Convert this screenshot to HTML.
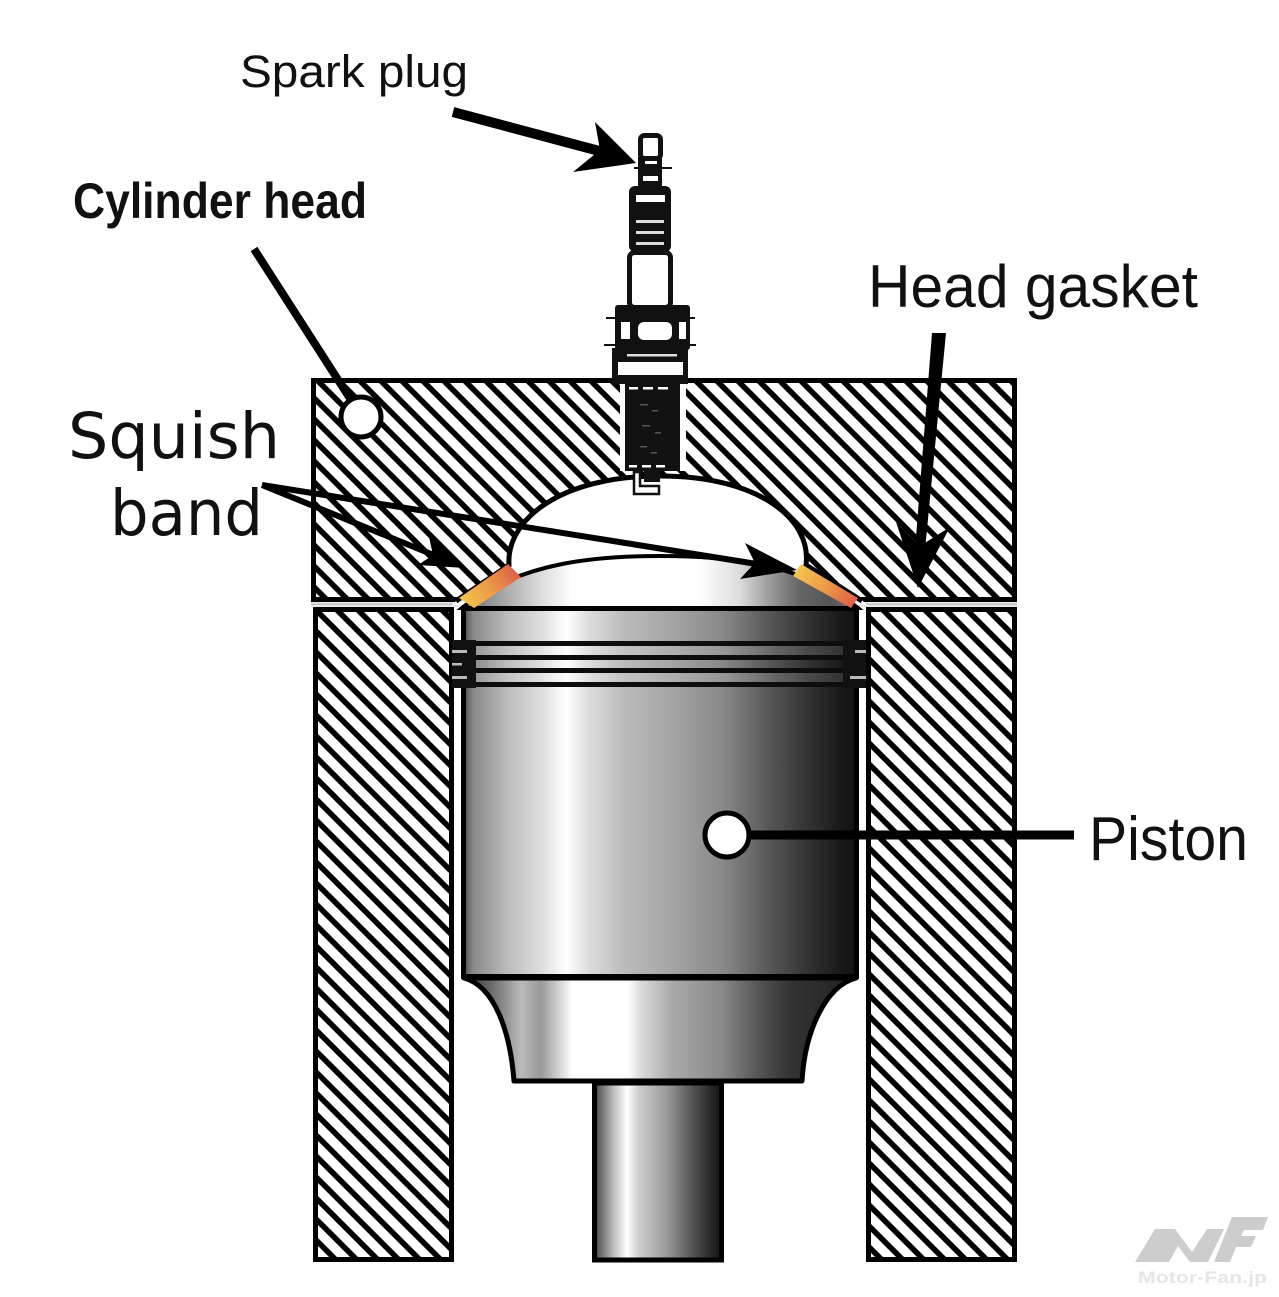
<!DOCTYPE html>
<html><head><meta charset="utf-8">
<style>html,body{margin:0;padding:0;background:#fff;}svg{display:block}</style>
</head><body>
<svg width="1279" height="1297" viewBox="0 0 1279 1297" xmlns="http://www.w3.org/2000/svg">
<defs>
  <pattern id="h" patternUnits="userSpaceOnUse" width="21" height="21">
    <path d="M-3,-3 L24,24 M-3,18 L3,24 M18,-3 L24,3" stroke="#000" stroke-width="5.6" fill="none"/>
  </pattern>
  <linearGradient id="pb" gradientUnits="userSpaceOnUse" x1="461" y1="0" x2="859" y2="0">
    <stop offset="0" stop-color="#3c3c3c"/><stop offset="0.03" stop-color="#888"/>
    <stop offset="0.115" stop-color="#bbb"/><stop offset="0.2" stop-color="#ddd"/>
    <stop offset="0.266" stop-color="#fff"/><stop offset="0.32" stop-color="#ddd"/>
    <stop offset="0.41" stop-color="#bbb"/><stop offset="0.53" stop-color="#a5a5a5"/>
    <stop offset="0.66" stop-color="#888"/><stop offset="0.78" stop-color="#555"/>
    <stop offset="0.87" stop-color="#333"/><stop offset="0.95" stop-color="#1a1a1a"/>
    <stop offset="1" stop-color="#111"/>
  </linearGradient>
  <linearGradient id="sk" gradientUnits="userSpaceOnUse" x1="462" y1="0" x2="857" y2="0">
    <stop offset="0" stop-color="#333"/><stop offset="0.07" stop-color="#666"/>
    <stop offset="0.15" stop-color="#bbb"/><stop offset="0.2" stop-color="#999"/>
    <stop offset="0.28" stop-color="#fff"/><stop offset="0.42" stop-color="#fff"/>
    <stop offset="0.45" stop-color="#ddd"/><stop offset="0.53" stop-color="#aaa"/>
    <stop offset="0.66" stop-color="#888"/><stop offset="0.75" stop-color="#555"/>
    <stop offset="0.83" stop-color="#333"/><stop offset="1" stop-color="#222"/>
  </linearGradient>
  <linearGradient id="rd" gradientUnits="userSpaceOnUse" x1="592" y1="0" x2="724" y2="0">
    <stop offset="0" stop-color="#333"/><stop offset="0.04" stop-color="#555"/>
    <stop offset="0.16" stop-color="#bbb"/><stop offset="0.265" stop-color="#fff"/>
    <stop offset="0.36" stop-color="#ccc"/><stop offset="0.57" stop-color="#999"/>
    <stop offset="0.76" stop-color="#555"/><stop offset="0.92" stop-color="#222"/>
    <stop offset="1" stop-color="#111"/>
  </linearGradient>
  <linearGradient id="pd" gradientUnits="userSpaceOnUse" x1="462" y1="0" x2="858" y2="0">
    <stop offset="0" stop-color="#666"/><stop offset="0.08" stop-color="#999"/>
    <stop offset="0.2" stop-color="#ddd"/><stop offset="0.28" stop-color="#fff"/>
    <stop offset="0.6" stop-color="#fff"/><stop offset="0.7" stop-color="#ddd"/>
    <stop offset="0.78" stop-color="#999"/><stop offset="0.85" stop-color="#666"/>
    <stop offset="0.93" stop-color="#555"/><stop offset="1" stop-color="#777"/>
  </linearGradient>
  <linearGradient id="ol" gradientUnits="userSpaceOnUse" x1="465" y1="605" x2="515" y2="568">
    <stop offset="0" stop-color="#f3c44c"/><stop offset="0.5" stop-color="#eb9a48"/><stop offset="1" stop-color="#de5e48"/>
  </linearGradient>
  <linearGradient id="or" gradientUnits="userSpaceOnUse" x1="800" y1="568" x2="855" y2="602">
    <stop offset="0" stop-color="#f3c44c"/><stop offset="0.5" stop-color="#eb9a48"/><stop offset="1" stop-color="#de5e48"/>
  </linearGradient>
</defs>

<rect width="1279" height="1297" fill="#fff"/>

<!-- Cylinder head -->
<rect x="313.5" y="380.5" width="701" height="219" fill="url(#h)" stroke="#000" stroke-width="5"/>
<!-- gasket gap -->
<rect x="311" y="602" width="706" height="5" fill="#e6e6e6"/>
<rect x="311" y="603.5" width="706" height="1.5" fill="#c4c4c4"/>

<!-- Cylinder walls -->
<rect x="315.5" y="609.5" width="136" height="650" fill="url(#h)" stroke="#000" stroke-width="5"/>
<rect x="868.5" y="609.5" width="146" height="650" fill="url(#h)" stroke="#000" stroke-width="5"/>

<!-- combustion chamber cut -->
<path d="M452,605 L459,598 L509,565 C506,520 560,476 660,476 C760,476 812,520 806,565 L860,598 L867,605 Z" fill="#fff"/>
<path d="M456,601 L509,565 C506,520 560,476 660,476 C760,476 812,520 806,565 L862,601" fill="none" stroke="#000" stroke-width="5"/>

<!-- spark plug threads in head -->
<rect x="620" y="381" width="66" height="90" fill="#fff"/>
<rect x="625" y="383" width="55" height="88" fill="#111"/>
<g fill="#fff">
  <rect x="629" y="387" width="9" height="2.5"/><rect x="643" y="387" width="10" height="2.5"/><rect x="658" y="387" width="10" height="2.5"/>
  <rect x="629" y="465" width="8" height="2.5"/><rect x="642" y="465" width="9" height="2.5"/><rect x="656" y="465" width="9" height="2.5"/>
</g>
<g fill="#555">
  <rect x="640" y="404" width="8" height="1.5"/><rect x="652" y="410" width="6" height="1.5"/>
  <rect x="642" y="425" width="8" height="1.5"/><rect x="655" y="432" width="6" height="1.5"/>
  <rect x="640" y="446" width="7" height="1.5"/><rect x="651" y="452" width="6" height="1.5"/>
</g>
<!-- electrode -->
<rect x="644" y="470" width="16" height="12" fill="#111"/>
<path d="M634,472 L634,494 L659,494 L659,486 L640,486 L640,472 Z" fill="#fff" stroke="#111" stroke-width="2.5"/>

<!-- Piston dome -->
<path d="M462,608 C520,561 600,556 660,556 C720,556 800,561 858,608 Z" fill="url(#pd)" stroke="#000" stroke-width="4"/>

<!-- Piston body -->
<rect x="463.5" y="608.5" width="393" height="368" fill="url(#pb)" stroke="#000" stroke-width="5"/>
<!-- rings -->
<g fill="#0d0d0d">
  <rect x="463" y="641" width="394" height="5"/>
  <rect x="463" y="655" width="394" height="5"/>
  <rect x="463" y="668" width="394" height="5"/>
  <rect x="463" y="682" width="394" height="5"/>
</g>
<rect x="463" y="646" width="394" height="9" fill="#fff" opacity="0.12"/>
<rect x="463" y="673" width="394" height="9" fill="#fff" opacity="0.12"/>
<!-- ring tabs -->
<rect x="452" y="640" width="24" height="48" fill="#111"/>
<rect x="452" y="650" width="15" height="3" fill="#bbb"/>
<rect x="452" y="663" width="10" height="2.5" fill="#bbb"/>
<rect x="452" y="676" width="15" height="3" fill="#bbb"/>
<rect x="843" y="640" width="23" height="48" fill="#111"/>
<rect x="855" y="650" width="11" height="3" fill="#bbb"/>
<rect x="850" y="676" width="16" height="3" fill="#bbb"/>

<!-- skirt -->
<path d="M464,978 L856,978 C826,986 805,1030 802,1081 L514,1081 C510,1030 494,986 464,978 Z" fill="url(#sk)" stroke="#000" stroke-width="5" stroke-linejoin="round"/>
<!-- rod -->
<rect x="594.5" y="1083" width="127" height="177" fill="url(#rd)" stroke="#000" stroke-width="5"/>

<!-- squish bands -->
<polygon points="459,598 508,564 521,577 474,608" fill="url(#ol)"/>
<polygon points="801,564 858,598 851,608 793,576" fill="url(#or)"/>

<!-- Spark plug (above head) -->
<g>
  <rect x="640.5" y="135.5" width="20" height="23" rx="4" fill="#fff" stroke="#111" stroke-width="5"/>
  <rect x="638" y="157" width="24" height="32" fill="#111"/>
  <rect x="645" y="161" width="12" height="3" fill="#fff"/>
  <rect x="643" y="176" width="15" height="5" fill="#fff"/>
  <rect x="634" y="167" width="38" height="2" fill="#111"/>
  <rect x="629" y="186" width="42" height="66" rx="6" fill="#111"/>
  <rect x="636" y="195" width="29" height="7" fill="#fff"/>
  <rect x="636" y="220" width="28" height="3" fill="#ddd"/>
  <rect x="636" y="231" width="28" height="3" fill="#ddd"/>
  <rect x="636" y="242" width="28" height="3" fill="#ddd"/>
  <rect x="629.5" y="252.5" width="41" height="55" rx="5" fill="#fff" stroke="#111" stroke-width="5"/>
  <rect x="615" y="305" width="75" height="45" rx="3" fill="#111"/>
  <rect x="621" y="322" width="9" height="17" fill="#fff"/>
  <rect x="638" y="322" width="34" height="18" rx="6" fill="#fff"/>
  <rect x="679" y="322" width="7" height="17" fill="#fff"/>
  <rect x="606" y="317" width="89" height="2" fill="#111"/>
  <rect x="604" y="344" width="92" height="2" fill="#111"/>
  <rect x="612" y="348" width="76" height="36" fill="#111"/>
  <rect x="627" y="354" width="50" height="2.5" fill="#ddd"/>
  <rect x="618" y="362" width="65" height="13" fill="#fff"/>
</g>

<!-- Cylinder head pointer -->
<line x1="254" y1="249" x2="351" y2="400" stroke="#000" stroke-width="8"/>
<circle cx="361" cy="417" r="20" fill="#fff" stroke="#000" stroke-width="5"/>

<!-- Spark plug arrow -->
<line x1="453" y1="112" x2="603" y2="152" stroke="#000" stroke-width="10"/>
<polygon points="636,163 595,122 600,150 573,172" fill="#000"/>

<!-- Squish band arrows -->
<line x1="262" y1="485" x2="436" y2="556" stroke="#000" stroke-width="6"/>
<polygon points="465,568 429,537 433,555 418,565" fill="#000"/>
<line x1="262" y1="485" x2="757" y2="564" stroke="#000" stroke-width="6"/>
<polygon points="797,570 745,543 755,563 740,579" fill="#000"/>

<!-- Head gasket arrow -->
<polygon points="932,333 946,333 925,550 915,550" fill="#000"/>
<polygon points="918,588 896,522 920,546 950,527" fill="#000"/>

<!-- Piston pointer -->
<line x1="748" y1="835" x2="1074" y2="835" stroke="#000" stroke-width="9"/>
<circle cx="727" cy="835" r="22" fill="#fff" stroke="#000" stroke-width="5"/>

<!-- Labels -->
<text x="240" y="87" font-family="'Liberation Sans', sans-serif" font-size="45" fill="#111" textLength="228" lengthAdjust="spacingAndGlyphs">Spark plug</text>
<text x="73" y="218" font-family="'Liberation Sans', sans-serif" font-weight="bold" font-size="50" fill="#111" textLength="294" lengthAdjust="spacingAndGlyphs">Cylinder head</text>
<text x="868" y="307" font-family="'Liberation Sans', sans-serif" font-size="60" fill="#111" textLength="330" lengthAdjust="spacingAndGlyphs">Head gasket</text>
<text x="68" y="458" font-family="'DejaVu Sans', sans-serif" font-size="63" fill="#111" textLength="212" lengthAdjust="spacingAndGlyphs">Squish</text>
<text x="110" y="535" font-family="'DejaVu Sans', sans-serif" font-size="63" fill="#111" textLength="153" lengthAdjust="spacingAndGlyphs">band</text>
<text x="1089" y="860" font-family="'Liberation Sans', sans-serif" font-size="62" fill="#111" textLength="159" lengthAdjust="spacingAndGlyphs">Piston</text>

<!-- Watermark logo -->
<g fill="#cdcdcd">
  <polygon points="1135,1262 1155,1229 1175,1229 1192,1252 1207,1229 1224,1229 1208,1262 1190,1262 1178,1246 1169,1262"/>
  <polygon points="1214,1262 1232,1217 1268,1217 1263,1230 1244,1230 1241,1236 1256,1236 1251,1247 1236,1247 1230,1262"/>
</g>
<text x="1138" y="1283" font-family="'Liberation Sans', sans-serif" font-weight="bold" font-size="17" fill="#e6e6e6" textLength="129" lengthAdjust="spacingAndGlyphs">Motor-Fan.jp</text>
</svg>
</body></html>
